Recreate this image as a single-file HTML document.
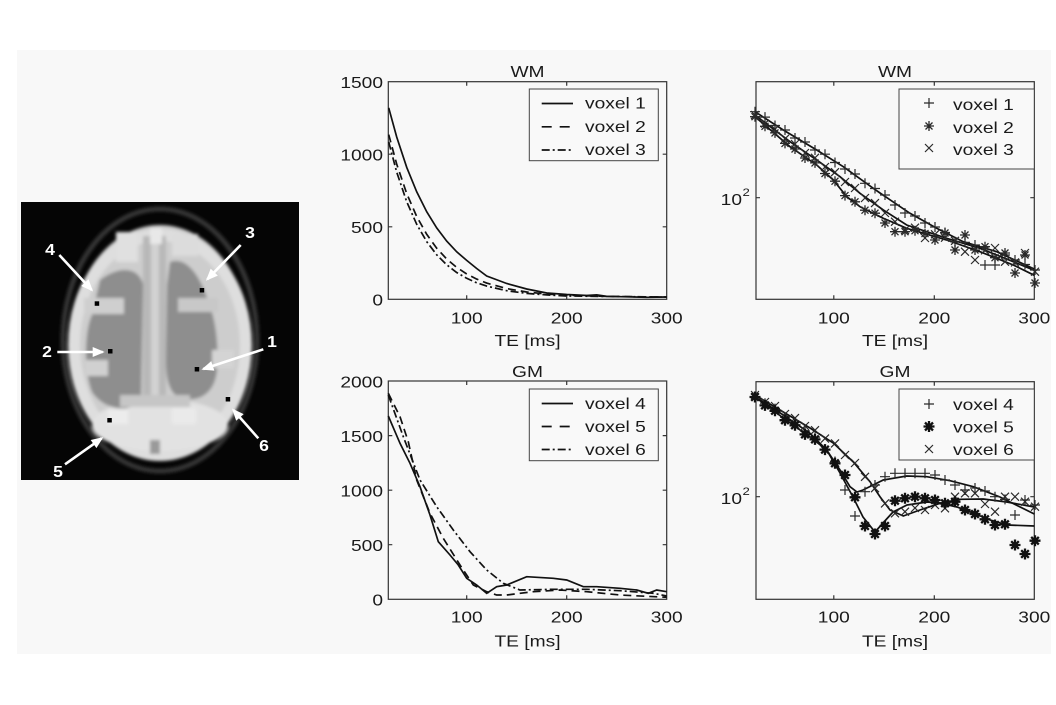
<!DOCTYPE html>
<html>
<head>
<meta charset="utf-8">
<style>
html,body{margin:0;padding:0;background:#fff;}
body{width:1056px;height:700px;overflow:hidden;}
svg text{font-family:"Liberation Sans",Arial,sans-serif;font-size:16px;fill:#1a1a1a;}
.lbl{font-weight:bold;fill:#fff;font-size:16px;}
</style>
</head>
<body>
<svg width="1056" height="700" viewBox="0 0 1056 700" xmlns="http://www.w3.org/2000/svg">
<defs>
  <marker id="mp" markerUnits="userSpaceOnUse" markerWidth="12" markerHeight="12" refX="6" refY="6" overflow="visible">
    <path d="M1,6H11M6,1V11" stroke="#2a2a2a" stroke-width="1.2" fill="none"/>
  </marker>
  <marker id="mx" markerUnits="userSpaceOnUse" markerWidth="12" markerHeight="12" refX="6" refY="6" overflow="visible">
    <path d="M2,2L10,10M2,10L10,2" stroke="#2a2a2a" stroke-width="1.2" fill="none"/>
  </marker>
  <marker id="ms" markerUnits="userSpaceOnUse" markerWidth="12" markerHeight="12" refX="6" refY="6" overflow="visible">
    <path d="M1,6H11M6,1V11M2.5,2.5L9.5,9.5M2.5,9.5L9.5,2.5" stroke="#2a2a2a" stroke-width="1.3" fill="none"/>
  </marker>
  <marker id="msb" markerUnits="userSpaceOnUse" markerWidth="12" markerHeight="12" refX="6" refY="6" overflow="visible">
    <path d="M0.5,6H11.5M6,0.5V11.5M2.2,2.2L9.8,9.8M2.2,9.8L9.8,2.2" stroke="#111" stroke-width="2.3" fill="none"/>
  </marker>
  <marker id="ah" markerUnits="userSpaceOnUse" markerWidth="12" markerHeight="10" refX="10" refY="5" orient="auto" overflow="visible">
    <path d="M0,0L12,5L0,10Z" fill="#fff"/>
  </marker>
  <filter id="bl" x="-10%" y="-10%" width="120%" height="120%"><feGaussianBlur stdDeviation="1.6"/></filter>
</defs>

<rect x="17" y="50" width="1034" height="604" fill="#f8f8f8"/>

<!-- Brain image -->
<rect x="21" y="202" width="278" height="278" fill="#050505"/>
<g filter="url(#bl)">
  <ellipse cx="160" cy="340" rx="97" ry="131" fill="none" stroke="#343434" stroke-width="5"/>
  <ellipse cx="160" cy="340" rx="89" ry="115" fill="#cdcdcd"/>
  <ellipse cx="160" cy="345" rx="86" ry="110" fill="none" stroke="#dedede" stroke-width="12"/>
  <ellipse cx="160" cy="425" rx="68" ry="26" fill="#e2e2e2"/>
  <path d="M100,280 C118,266 138,266 143,284 L141,400 C130,414 104,410 92,392 C84,372 84,332 92,315 Z" fill="#8e8e8e"/>
  <path d="M170,262 C186,256 199,275 206,295 C215,316 219,340 217,370 C215,393 200,401 185,399 C172,397 166,386 166,360 L167,285 Z" fill="#8e8e8e"/>
  <rect x="143" y="236" width="23" height="170" fill="#b8b8b8"/>
  <rect x="151" y="240" width="8" height="160" fill="#d2d2d2"/>
  <rect x="84" y="298" width="40" height="16" fill="#cfcfcf"/>
  <rect x="178" y="298" width="40" height="14" fill="#c8c8c8"/>
  <rect x="116" y="232" width="22" height="30" fill="#e0e0e0"/>
  <rect x="172" y="234" width="26" height="22" fill="#dcdcdc"/>
  <rect x="150" y="228" width="12" height="16" fill="#e8e8e8"/>
  <rect x="86" y="360" width="22" height="16" fill="#d0d0d0"/>
  <rect x="212" y="350" width="22" height="18" fill="#d4d4d4"/>
  <rect x="120" y="395" width="70" height="12" fill="#c6c6c6"/>
  <rect x="108" y="410" width="20" height="14" fill="#ececec"/>
  <rect x="172" y="408" width="24" height="16" fill="#eaeaea"/>
  <rect x="150" y="440" width="10" height="14" fill="#9a9a9a"/>
</g>
<g fill="#000">
  <rect x="94.7" y="301.3" width="4.5" height="4.5"/>
  <rect x="199.7" y="288" width="4.5" height="4.5"/>
  <rect x="108" y="349" width="4.5" height="4.5"/>
  <rect x="194.7" y="367" width="4.5" height="4.5"/>
  <rect x="225.7" y="397" width="4.5" height="4.5"/>
  <rect x="107.3" y="418" width="4.5" height="4.5"/>
</g>
<g stroke="#fff" stroke-width="2.6" fill="none" marker-end="url(#ah)">
  <line x1="59.3" y1="255" x2="91.7" y2="290"/>
  <line x1="240.7" y1="245" x2="207.3" y2="279.3"/>
  <line x1="57.3" y1="352" x2="102.7" y2="352"/>
  <line x1="263.3" y1="349.3" x2="203.3" y2="369"/>
  <line x1="258.3" y1="438.3" x2="233.3" y2="410"/>
  <line x1="65" y1="464.3" x2="101.7" y2="438.3"/>
</g>
<g text-anchor="middle">
  <text class="lbl" transform="translate(50,255) scale(1.1,1)">4</text>
  <text class="lbl" transform="translate(250,238) scale(1.1,1)">3</text>
  <text class="lbl" transform="translate(47,357) scale(1.1,1)">2</text>
  <text class="lbl" transform="translate(272,347) scale(1.1,1)">1</text>
  <text class="lbl" transform="translate(264,451) scale(1.1,1)">6</text>
  <text class="lbl" transform="translate(58,477) scale(1.1,1)">5</text>
</g>

<!-- Top-left WM linear -->
<g fill="none" stroke="#333" stroke-width="1.2">
  <rect x="388.3" y="81.7" width="278.4" height="217.6"/>
  <path d="M466.7,299.3V295.3M566.7,299.3V295.3M466.7,81.7V85.7M566.7,81.7V85.7M388.3,154.2H392.3M388.3,226.8H392.3M666.7,154.2H662.7M666.7,226.8H662.7"/>
</g>
<g fill="none" stroke="#111" stroke-width="1.7">
  <polyline points="388.7,107.8 396.7,137.0 406.7,167.3 416.7,191.8 426.7,211.7 436.7,227.9 446.7,241.1 456.7,251.8 466.7,260.4 476.7,268.5 486.7,276 506.7,283.5 526.7,289 546.7,293 566.7,294.5 586.7,295.5 596.7,294.8 606.7,296.3 626.7,296.8 646.7,297.3 666.7,297"/>
  <polyline stroke-dasharray="8,5" points="388.7,134.6 396.7,164.1 406.7,193.5 416.7,216.5 426.7,234.3 436.7,248.2 446.7,259.0 456.7,267.4 466.7,274.0 476.7,279.1 486.7,283.1 506.7,288.6 526.7,292.0 546.7,294.0 566.7,295.2 606.7,296.4 666.7,297.0"/>
  <polyline stroke-dasharray="8,3,2,3" points="388.7,141.9 396.7,172.1 406.7,201.7 416.7,224.3 426.7,241.6 436.7,254.8 446.7,264.8 456.7,272.5 466.7,278.3 476.7,282.8 486.7,286.1 506.7,290.7 526.7,293.4 546.7,294.9 566.7,296 666.7,297.1"/>
</g>
<rect x="529.3" y="89" width="129" height="71.7" fill="#f9f9f9" stroke="#444" stroke-width="1"/>
<g stroke="#111" stroke-width="1.7">
  <line x1="541.7" y1="103.5" x2="573" y2="103.5"/>
  <line x1="541.7" y1="126.8" x2="573" y2="126.8" stroke-dasharray="10,8"/>
  <line x1="541.7" y1="150" x2="573" y2="150" stroke-dasharray="8,3,2,3"/>
</g>
<text transform="translate(585,108.5) scale(1.2,1)">voxel 1</text>
<text transform="translate(585,131.8) scale(1.2,1)">voxel 2</text>
<text transform="translate(585,155) scale(1.2,1)">voxel 3</text>
<g text-anchor="middle">
  <text transform="translate(527.5,77) scale(1.2,1)">WM</text>
  <text transform="translate(466.7,323.4) scale(1.2,1)">100</text>
  <text transform="translate(566.7,323.4) scale(1.2,1)">200</text>
  <text transform="translate(666.7,323.4) scale(1.2,1)">300</text>
  <text transform="translate(527.5,346) scale(1.2,1)">TE [ms]</text>
</g>
<g text-anchor="end">
  <text transform="translate(383,88) scale(1.2,1)">1500</text>
  <text transform="translate(383,160.3) scale(1.2,1)">1000</text>
  <text transform="translate(383,233) scale(1.2,1)">500</text>
  <text transform="translate(383,305.5) scale(1.2,1)">0</text>
</g>

<!-- Top-right WM log -->
<g fill="none" stroke="#333" stroke-width="1.2">
  <rect x="756" y="81.7" width="278.3" height="217.6"/>
  <path d="M833.8,299.3V295.3M934.3,299.3V295.3M833.8,81.7V85.7M934.3,81.7V85.7M756,197.7H760M1034.3,197.7H1030.3"/>
</g>
<g fill="none" stroke="#111" stroke-width="1.7">
  <polyline points="755,111.7 783.3,130 816.7,150 843.3,166.7 873.3,188.3 880,193 910,213.3 936.7,228.3 963.3,241.7 996.7,251.7 1034.3,269"/>
  <polyline points="755,115 790,141.7 816.7,160 840,176.7 860,193.3 883.3,210 906.7,225 946.7,238.3 980,248.3 1013.3,261.7 1034.3,270.3"/>
  <polyline points="755,116.7 790,146.7 816.7,165 833.3,180 846.7,196.7 860,206.7 883.3,218.3 906.7,228.3 946.7,240 980,251.7 1013.3,265 1034.3,275.3"/>
</g>
<g fill="none" stroke="none">
  <polyline marker-start="url(#mp)" marker-mid="url(#mp)" marker-end="url(#mp)" points="755,111.7 765,117.1 775,125.5 785,130 795,138 805,142 815,150 825,154.2 835,162.5 845,169 855,174 865,183.3 875,188.5 885,195 895,205 905,213 915,216 925,223 935,227 945,232.5 955,241.7 965,242.3 975,245 985,265 995,265 1005,255 1015,260 1025,264.5 1035,270"/>
  <polyline marker-start="url(#mx)" marker-mid="url(#mx)" marker-end="url(#mx)" points="755,115 765,123.6 775,129.2 785,138.8 795,144 805,153 815,157.8 825,167 835,172.2 845,182 855,188 865,198 875,203.1 885,213 895,221.7 905,230 915,227.7 925,238 935,234.3 945,237.7 955,240.8 965,251.7 975,260 985,250.3 995,248 1005,261.7 1015,262.4 1025,253 1035,271.7"/>
  <polyline marker-start="url(#ms)" marker-mid="url(#ms)" marker-end="url(#ms)" points="755,116.7 765,126.3 775,132.9 785,143.4 795,149 805,158 815,162.9 825,173.5 835,181.2 845,195.6 855,201.8 865,210.2 875,213.2 885,223 895,231.7 905,231.7 915,230.7 925,233.6 935,240 945,233 955,250 965,235 975,250 985,246.7 995,257.7 1005,253 1015,273 1025,255 1035,283"/>
</g>
<rect x="899" y="89" width="135.3" height="80" fill="#f9f9f9" stroke="#444" stroke-width="1"/>
<path d="M924,103H934M929,98V108" stroke="#2a2a2a" stroke-width="1.2"/>
<path d="M924,126H934M929,121V131M925.5,122.5L932.5,129.5M925.5,129.5L932.5,122.5" stroke="#2a2a2a" stroke-width="1.3"/>
<path d="M925,144L933,152M925,152L933,144" stroke="#2a2a2a" stroke-width="1.2"/>
<text transform="translate(953,110) scale(1.2,1)">voxel 1</text>
<text transform="translate(953,133) scale(1.2,1)">voxel 2</text>
<text transform="translate(953,155) scale(1.2,1)">voxel 3</text>
<g text-anchor="middle">
  <text transform="translate(895,77) scale(1.2,1)">WM</text>
  <text transform="translate(833.8,323.4) scale(1.2,1)">100</text>
  <text transform="translate(934.3,323.4) scale(1.2,1)">200</text>
  <text transform="translate(1034.3,323.4) scale(1.2,1)">300</text>
  <text transform="translate(895,346) scale(1.2,1)">TE [ms]</text>
</g>
<text text-anchor="end" transform="translate(742,205) scale(1.2,1)">10</text>
<text transform="translate(742.5,196) scale(1.2,1)" style="font-size:11px">2</text>

<!-- Bottom-left GM linear -->
<g fill="none" stroke="#333" stroke-width="1.2">
  <rect x="388.3" y="381" width="278.4" height="218.3"/>
  <path d="M466.7,599.3V595.3M566.7,599.3V595.3M466.7,381V385M566.7,381V385M388.3,435.6H392.3M388.3,490.2H392.3M388.3,544.7H392.3M666.7,435.6H662.7M666.7,490.2H662.7M666.7,544.7H662.7"/>
</g>
<g fill="none" stroke="#111" stroke-width="1.7">
  <polyline points="388.3,416 400,443.3 410,463.3 420,486.7 430,515 438.3,541.7 450,555 458.3,565 466.7,578.3 476.7,585 486.7,593.3 496.7,586.7 506.7,585 526.7,576.7 553.3,578.3 566.7,580 583.3,586.7 596.7,586.7 620,588.3 636.7,590 648.3,593.3 656.7,590 666.7,591.7"/>
  <polyline stroke-dasharray="8,5" points="388.3,393.3 400,416.7 408.3,441.7 416.7,480 430,513.3 443.3,538.3 460,565 473.3,585 486.7,591.7 496.7,595 506.7,595 520,593.3 533.3,591.7 560,590 586.7,591.7 620,595 666.7,597.3"/>
  <polyline stroke-dasharray="8,3,2,3" points="388.3,395 403.3,436.7 420,480 436.7,506.7 453.3,530 470,551.7 486.7,570 503.3,583.3 520,590 553.3,589.3 586.7,589.3 620,590.7 653.3,593.3 666.7,596"/>
</g>
<rect x="529.3" y="389" width="129" height="71.7" fill="#f9f9f9" stroke="#444" stroke-width="1"/>
<g stroke="#111" stroke-width="1.7">
  <line x1="541.7" y1="403.5" x2="573" y2="403.5"/>
  <line x1="541.7" y1="426.5" x2="573" y2="426.5" stroke-dasharray="10,8"/>
  <line x1="541.7" y1="449.5" x2="573" y2="449.5" stroke-dasharray="8,3,2,3"/>
</g>
<text transform="translate(585,409) scale(1.2,1)">voxel 4</text>
<text transform="translate(585,432) scale(1.2,1)">voxel 5</text>
<text transform="translate(585,455) scale(1.2,1)">voxel 6</text>
<g text-anchor="middle">
  <text transform="translate(527.5,377) scale(1.2,1)">GM</text>
  <text transform="translate(466.7,622.7) scale(1.2,1)">100</text>
  <text transform="translate(566.7,622.7) scale(1.2,1)">200</text>
  <text transform="translate(666.7,622.7) scale(1.2,1)">300</text>
  <text transform="translate(527.5,646.5) scale(1.2,1)">TE [ms]</text>
</g>
<g text-anchor="end">
  <text transform="translate(383,387.5) scale(1.2,1)">2000</text>
  <text transform="translate(383,441.8) scale(1.2,1)">1500</text>
  <text transform="translate(383,496.3) scale(1.2,1)">1000</text>
  <text transform="translate(383,550.8) scale(1.2,1)">500</text>
  <text transform="translate(383,605.5) scale(1.2,1)">0</text>
</g>

<!-- Bottom-right GM log -->
<g fill="none" stroke="#333" stroke-width="1.2">
  <rect x="756" y="381.7" width="278.3" height="217.6"/>
  <path d="M833.8,599.3V595.3M934.3,599.3V595.3M833.8,381.7V385.7M934.3,381.7V385.7M756,496.7H760M1034.3,496.7H1030.3"/>
</g>
<g fill="none" stroke="#111" stroke-width="1.7">
  <polyline points="755,396.7 783.3,415 810,433.3 826.7,450 840,470 850,486.7 857,492 863,490 883.3,480 906.7,476 926.7,476.7 950,480.7 973.3,486.7 1000,497 1034.3,514"/>
  <polyline points="755,395 783.3,412 810,428 833.3,443 853.3,462 870,481.7 880,496.7 890,510 903.3,516 920,510 940,503.3 960,499.3 983.3,499 1006.7,502 1034.3,507"/>
  <polyline points="755,397 783.3,418 810,437 826.7,450 840,473 853,497 863,517 875,532 883,523 893,512 907,505 927,502 940,503 957,507 973,513 990,520 1007,525 1034.3,526"/>
</g>
<g fill="none" stroke="none">
  <polyline marker-start="url(#mp)" marker-mid="url(#mp)" marker-end="url(#mp)" points="755,397 765,403.2 775,408.6 785,417.2 795,422 805,431 815,437.2 825,449.3 835,461.5 845,490 855,516 865,491.7 875,485 885,476.7 895,473.3 905,473.3 915,473.3 925,473.3 935,475 945,480 955,485 965,490 975,488 985,491 995,496.7 1005,499.4 1015,515 1025,500 1035,505"/>
  <polyline marker-start="url(#mx)" marker-mid="url(#mx)" marker-end="url(#mx)" points="755,395 765,402 775,406 785,414 795,418.1 805,426 815,430.2 825,438.6 835,443.4 845,455 855,463 865,476.8 875,488.2 885,503.4 895,513.3 905,511.7 915,508 925,510 935,505 945,508.3 955,496.7 965,493.3 975,493.3 985,504 995,511.7 1005,496.7 1015,496.7 1025,501.7 1035,506.7"/>
  <polyline marker-start="url(#msb)" marker-mid="url(#msb)" marker-end="url(#msb)" points="755,397 765,405.4 775,410.8 785,420.2 795,425.3 805,434.4 815,439.4 825,449.6 835,463.3 845,475 855,497.3 865,526 875,534 885,526 895,500.7 905,498.3 915,496.7 925,498.3 935,500 945,503.3 955,501.7 965,510 975,514 985,519.3 995,525 1005,524.3 1015,545 1025,554 1035,540.7"/>
</g>
<rect x="899" y="389" width="135.3" height="71" fill="#f9f9f9" stroke="#444" stroke-width="1"/>
<path d="M924,404H934M929,399V409" stroke="#2a2a2a" stroke-width="1.2"/>
<path d="M923.5,426.5H934.5M929,421V432M925,422.5L933,430.5M925,430.5L933,422.5" stroke="#111" stroke-width="2.3"/>
<path d="M925,445L933,453M925,453L933,445" stroke="#2a2a2a" stroke-width="1.2"/>
<text transform="translate(953,410) scale(1.2,1)">voxel 4</text>
<text transform="translate(953,432.5) scale(1.2,1)">voxel 5</text>
<text transform="translate(953,455) scale(1.2,1)">voxel 6</text>
<g text-anchor="middle">
  <text transform="translate(895,377) scale(1.2,1)">GM</text>
  <text transform="translate(833.8,622.7) scale(1.2,1)">100</text>
  <text transform="translate(934.3,622.7) scale(1.2,1)">200</text>
  <text transform="translate(1034.3,622.7) scale(1.2,1)">300</text>
  <text transform="translate(895,646.5) scale(1.2,1)">TE [ms]</text>
</g>
<text text-anchor="end" transform="translate(742,504) scale(1.2,1)">10</text>
<text transform="translate(742.5,495) scale(1.2,1)" style="font-size:11px">2</text>
</svg>
</body>
</html>
